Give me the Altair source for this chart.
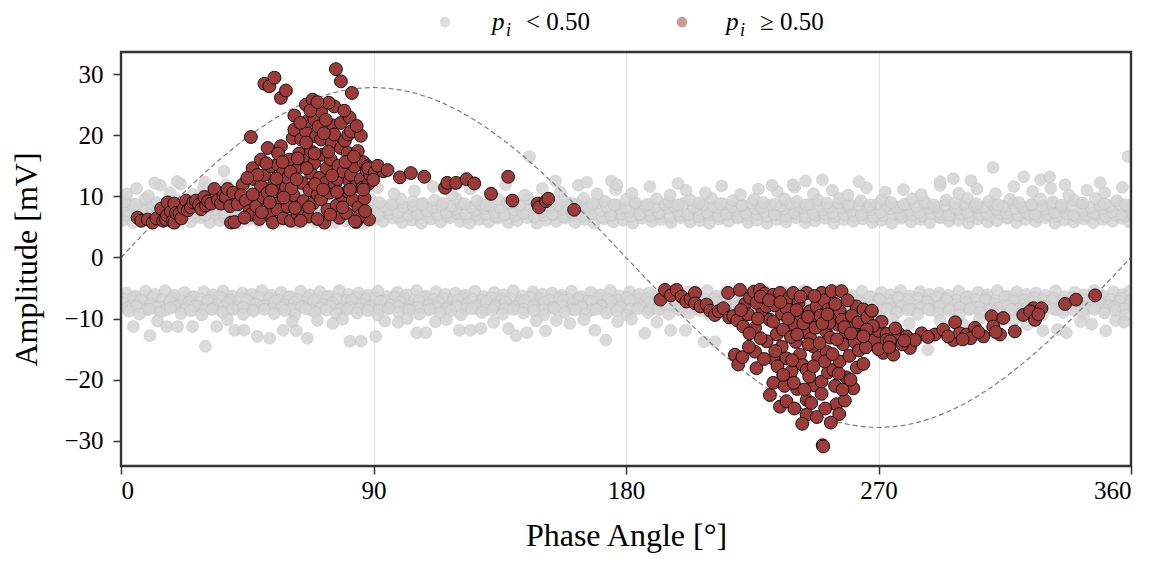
import altair as alt
import pandas as pd

# ---------------- data ----------------
# grey points (p_i < 0.50), upper band
gray_upper = [
 [0.8,6.1],[4.3,5.7],[7.6,6.4],[11.2,5.9],[14.5,6.3],[18.1,5.6],[21.4,6.2],[24.9,5.8],[28.3,6.5],[31.6,5.7],[35.2,6.0],[38.7,6.4],[42.0,5.6],[45.4,6.2],[48.9,5.9],[52.3,6.5],[55.6,5.7],[59.2,6.1],[62.7,5.6],[66.0,6.3],[69.5,5.8],[72.9,6.4],[76.2,5.7],[79.8,6.0],[83.1,6.5],[86.6,5.6],[90.0,6.2],[93.4,5.9],[96.9,6.4],[100.2,5.7],[103.8,6.1],[107.1,5.6],[110.6,6.3],[114.0,5.8],[117.3,6.5],[120.9,5.9],[124.2,5.6],[127.7,6.2],[131.1,5.8],[134.4,6.4],[138.0,5.7],[141.3,6.0],[144.8,6.5],[148.2,5.6],[151.5,6.1],[155.1,5.9],[158.4,6.4],[161.9,5.7],[165.3,6.2],[168.6,5.6],[172.2,6.3],[175.5,5.8],[179.0,6.1],[182.4,5.6],[185.7,6.4],[189.3,5.9],[192.6,6.2],[196.1,5.7],[199.5,6.5],[202.8,5.8],[206.4,6.0],[209.7,5.6],[213.2,6.3],[216.6,5.9],[219.9,6.4],[223.5,5.7],[226.8,6.1],[230.3,5.6],[233.7,6.2],[237.0,5.8],[240.6,6.5],[243.9,5.7],[247.4,6.0],[250.8,6.4],[254.1,5.6],[257.7,6.2],[261.0,5.9],[264.5,6.3],[267.9,5.7],[271.2,6.1],[274.8,5.6],[278.1,6.4],[281.6,5.8],[285.0,6.2],[288.3,5.7],[291.9,6.5],[295.2,5.9],[298.7,6.1],[302.1,5.6],[305.4,6.3],[309.0,5.8],[312.3,6.0],[315.8,6.4],[319.2,5.7],[322.5,6.2],[326.1,5.9],[329.4,6.5],[332.9,5.6],[336.3,6.1],[339.6,5.8],[343.2,6.3],[346.5,5.7],[350.0,6.2],[353.4,5.9],[356.7,6.4],[359.4,5.8],
 [2.5,6.9],[5.9,6.7],[9.4,7.1],[12.8,6.6],[16.3,7.0],[19.7,6.8],[23.2,7.2],[26.6,6.7],[30.1,6.9],[33.5,7.1],[37.0,6.6],[40.4,7.0],[43.9,6.8],[47.3,7.2],[50.8,6.6],[54.2,6.9],[57.7,7.1],[61.1,6.7],[64.6,7.0],[68.0,6.8],[71.5,7.2],[74.9,6.6],[78.4,6.9],[81.8,7.1],[85.3,6.7],[88.7,7.0],[92.2,6.8],[95.6,7.2],[99.1,6.6],[102.5,6.9],[106.0,7.1],[109.4,6.7],[112.9,7.0],[116.3,6.8],[119.8,7.2],[123.2,6.6],[126.7,6.9],[130.1,7.1],[133.6,6.7],[137.0,7.0],[140.5,6.8],[143.9,7.2],[147.4,6.6],[150.8,6.9],[154.3,7.1],[157.7,6.7],[161.2,7.0],[164.6,6.8],[168.1,7.2],[171.5,6.6],[175.0,6.9],[178.4,7.1],[181.9,6.7],[185.3,7.0],[188.8,6.8],[192.2,7.2],[195.7,6.6],[199.1,6.9],[202.6,7.1],[206.0,6.7],[209.5,7.0],[212.9,6.8],[216.4,7.2],[219.8,6.6],[223.3,6.9],[226.7,7.1],[230.2,6.7],[233.6,7.0],[237.1,6.8],[240.5,7.2],[244.0,6.6],[247.4,6.9],[250.9,7.1],[254.3,6.7],[257.8,7.0],[261.2,6.8],[264.7,7.2],[268.1,6.6],[271.6,6.9],[275.0,7.1],[278.5,6.7],[281.9,7.0],[285.4,6.8],[288.8,7.2],[292.3,6.6],[295.7,6.9],[299.2,7.1],[302.6,6.7],[306.1,7.0],[309.5,6.8],[313.0,7.2],[316.4,6.6],[319.9,6.9],[323.3,7.1],[326.8,6.7],[330.2,7.0],[333.7,6.8],[337.1,7.2],[340.6,6.6],[344.0,6.9],[347.5,7.1],[350.9,6.7],[354.4,7.0],[357.8,6.8],
 [2.4,7.6],[5.9,7.1],[9.3,8.0],[12.8,7.4],[16.2,7.9],[19.7,7.2],[23.1,8.2],[26.5,7.5],[30.0,7.0],[33.4,7.8],[36.9,7.3],[40.3,8.1],[43.7,7.6],[47.2,7.1],[50.6,7.9],[54.1,7.4],[57.5,8.2],[60.9,7.0],[64.4,7.7],[67.8,7.3],[71.3,8.0],[74.7,7.5],[78.1,7.1],[81.6,7.9],[85.0,7.4],[88.5,8.2],[91.9,7.2],[95.3,7.8],[98.8,7.4],[102.2,8.1],[105.7,7.0],[109.1,7.6],[112.5,8.2],[116.0,7.3],[119.4,7.9],[122.9,7.1],[126.3,7.7],[129.7,8.0],[133.2,7.4],[136.6,7.0],[140.1,7.8],[143.5,7.3],[146.9,8.1],[150.4,7.5],[153.8,7.1],[157.3,7.9],[160.7,7.4],[164.1,8.2],[167.6,7.2],[171.0,7.7],[174.5,7.0],[177.9,8.0],[181.3,7.5],[184.8,7.1],[188.2,7.8],[191.7,7.3],[195.1,8.1],[198.5,7.6],[202.0,7.0],[205.4,7.9],[208.9,7.4],[212.3,8.2],[215.7,7.1],[219.2,7.7],[222.6,7.3],[226.1,8.0],[229.5,7.5],[232.9,7.1],[236.4,7.9],[239.8,7.4],[243.3,8.1],[246.7,7.2],[250.1,7.8],[253.6,7.3],[257.0,8.2],[260.5,7.6],[263.9,7.0],[267.3,7.8],[270.8,7.4],[274.2,8.0],[277.7,7.1],[281.1,7.7],[284.5,7.3],[288.0,8.1],[291.4,7.5],[294.9,7.0],[298.3,7.9],[301.7,7.4],[305.2,8.2],[308.6,7.2],[312.1,7.8],[315.5,7.3],[318.9,8.0],[322.4,7.5],[325.8,7.1],[329.3,7.9],[332.7,7.4],[336.1,8.2],[339.6,7.0],[343.0,7.7],[346.5,7.3],[349.9,8.0],[353.3,7.5],[356.8,7.1],[359.6,7.8],
 [0.6,8.4],[4.0,8.7],[7.5,8.3],[10.9,8.8],[14.4,8.5],[17.8,8.2],[21.3,8.9],[24.7,8.4],[28.2,8.6],[31.6,8.3],[35.1,8.8],[38.5,8.5],[42.0,8.2],[45.4,8.7],[48.9,8.4],[52.3,8.9],[55.8,8.3],[59.2,8.6],[62.7,8.2],[66.1,8.8],[69.6,8.5],[73.0,8.3],[76.5,8.7],[79.9,8.4],[83.4,8.9],[86.8,8.2],[90.3,8.6],[93.7,8.4],[97.2,8.8],[100.6,8.3],[104.1,8.5],[107.5,8.9],[111.0,8.2],[114.4,8.6],[117.9,8.4],[121.3,8.8],[124.8,8.3],[128.2,8.7],[131.7,8.5],[135.1,8.2],[138.6,8.9],[142.0,8.4],[145.5,8.6],[148.9,8.3],[152.4,8.8],[155.8,8.5],[159.3,8.2],[162.7,8.7],[166.2,8.4],[169.6,8.9],[173.1,8.3],[176.5,8.6],[180.0,8.2],[183.4,8.8],[186.9,8.5],[190.3,8.3],[193.8,8.7],[197.2,8.4],[200.7,8.9],[204.1,8.2],[207.6,8.6],[211.0,8.4],[214.5,8.8],[217.9,8.3],[221.4,8.5],[224.8,8.9],[228.3,8.2],[231.7,8.6],[235.2,8.4],[238.6,8.8],[242.1,8.3],[245.5,8.7],[249.0,8.5],[252.4,8.2],[255.9,8.9],[259.3,8.4],[262.8,8.6],[266.2,8.3],[269.7,8.8],[273.1,8.5],[276.6,8.2],[280.0,8.7],[283.5,8.4],[286.9,8.9],[290.4,8.3],[293.8,8.6],[297.3,8.2],[300.7,8.8],[304.2,8.5],[307.6,8.3],[311.1,8.7],[314.5,8.4],[318.0,8.9],[321.4,8.2],[324.9,8.6],[328.3,8.4],[331.8,8.8],[335.2,8.3],[338.7,8.5],[342.1,8.9],[345.6,8.2],[349.0,8.6],[352.5,8.4],[355.9,8.8],[359.0,8.3],
 [1.2,9.1],[5.3,8.7],[8.6,9.6],[12.9,9.0],[16.1,8.6],[20.4,9.4],[23.7,8.9],[27.9,9.7],[31.3,8.8],[35.6,9.3],[38.9,8.6],[43.3,9.5],[46.5,9.0],[50.9,8.7],[54.2,9.6],[58.5,9.1],[61.7,8.6],[66.1,9.4],[69.3,8.9],[73.7,9.7],[76.9,8.8],[81.3,9.2],[84.5,8.6],[88.9,9.5],[92.1,9.0],[96.5,8.7],[99.7,9.6],[104.1,9.2],[107.3,8.6],[111.7,9.4],[114.9,8.9],[119.3,9.7],[122.5,8.8],[126.9,9.3],[130.1,8.6],[134.5,9.5],[137.7,9.0],[142.1,8.7],[145.3,9.6],[149.7,9.1],[152.9,8.6],[157.3,9.4],[160.5,8.9],[164.9,9.7],[168.1,8.8],[172.5,9.2],[175.7,8.6],[180.1,9.5],[183.3,9.0],[187.7,8.7],[190.9,9.6],[195.3,9.1],[198.5,8.6],[202.9,9.4],[206.1,8.9],[210.5,9.7],[213.7,8.8],[218.1,9.3],[221.3,8.6],[225.7,9.5],[228.9,9.0],[233.3,8.7],[236.5,9.6],[240.9,9.2],[244.1,8.6],[248.5,9.4],[251.7,8.9],[256.1,9.7],[259.3,8.8],[263.7,9.3],[266.9,8.6],[271.3,9.5],[274.5,9.0],[278.9,8.7],[282.1,9.6],[286.5,9.1],[289.7,8.6],[294.1,9.4],[297.3,8.9],[301.7,9.7],[304.9,8.8],[309.3,9.2],[312.5,8.6],[316.9,9.5],[320.1,9.0],[324.5,8.7],[327.7,9.6],[332.1,9.1],[335.3,8.6],[339.7,9.4],[342.9,8.9],[347.3,9.7],[350.5,8.8],[354.9,9.3],[358.1,8.6],
 [2.1,10.4],[5.5,11.3],[9.8,10.1],[14.0,11.8],[17.5,10.6],[21.3,12.0],[25.8,10.3],[29.4,11.5],[33.2,10.8],[37.5,11.9],[41.6,10.2],[46.1,11.0],[50.3,10.5],[57.0,10.9],[63.1,10.3],[70.4,11.1],[76.8,10.6],[84.2,10.2],[91.5,11.4],[97.3,10.4],[104.6,10.9],[111.2,11.6],[117.9,10.3],[124.5,11.2],[131.8,10.6],[137.1,11.9],[143.9,10.2],[150.2,11.3],[156.6,10.7],[163.0,11.8],[169.7,10.4],[176.3,11.1],[182.1,10.5],[188.5,11.6],[195.7,10.2],[201.4,11.0],[208.3,10.6],[214.1,11.7],[220.8,10.3],[227.2,11.2],[233.9,10.8],[240.1,11.5],[246.8,10.4],[253.5,11.0],[259.2,10.2],[265.7,11.4],[272.4,10.7],[278.9,11.1],[285.3,10.3],[292.0,11.8],[298.6,10.5],[305.1,11.2],[311.7,10.4],[318.2,11.6],[324.9,10.8],[331.4,11.3],[337.8,10.2],[344.3,11.0],[350.6,10.6],[356.9,11.5],
 [36.7,14.1],[145.6,16.5],[154.9,12.5],[174.8,12.5],[176.8,11.9],[198.5,12.1],[232.0,11.8],[239.5,11.9],[244.0,12.5],[250.0,12.7],[292.0,12.4],[296.7,12.9],[310.8,14.7],[321.8,13.2],[327.8,12.7],[331.0,13.2],[336.5,11.9],[349.0,12.2],[358.9,16.5],[12.0,12.2],[20.0,12.4],[30.0,12.3],[44.0,12.1],[118.0,12.0],[166.0,12.3],[263.0,12.4],[303.0,12.6],
]

# grey points (p_i < 0.50), lower band
gray_lower = [
 [1.9,-5.8],[5.2,-6.3],[8.8,-5.5],[12.1,-6.0],[15.7,-5.4],[19.0,-6.2],[22.6,-5.7],[25.9,-6.4],[29.5,-5.6],[32.8,-6.1],[36.4,-5.5],[39.7,-6.3],[43.3,-5.8],[46.6,-6.0],[50.2,-5.4],[53.5,-6.2],[57.1,-5.7],[60.4,-6.4],[64.0,-5.5],[67.3,-6.1],[70.9,-5.6],[74.2,-6.3],[77.8,-5.4],[81.1,-6.0],[84.7,-5.8],[88.0,-6.2],[91.6,-5.5],[94.9,-6.4],[98.5,-5.7],[101.8,-6.1],[105.4,-5.4],[108.7,-6.3],[112.3,-5.6],[115.6,-6.0],[119.2,-5.8],[122.5,-6.2],[126.1,-5.5],[129.4,-6.4],[133.0,-5.7],[136.3,-6.1],[139.9,-5.4],[143.2,-6.3],[146.8,-5.6],[150.1,-6.0],[153.7,-5.8],[157.0,-6.2],[160.6,-5.5],[163.9,-6.4],[167.5,-5.7],[170.8,-6.1],[174.4,-5.4],[177.7,-6.3],[181.3,-5.6],[184.6,-6.0],[188.2,-5.8],[191.5,-6.2],[195.1,-5.5],[198.4,-6.4],[202.0,-5.7],[205.3,-6.1],[208.9,-5.4],[212.2,-6.3],[215.8,-5.6],[219.1,-6.0],[222.7,-5.8],[226.0,-6.2],[229.6,-5.5],[232.9,-6.4],[236.5,-5.7],[239.8,-6.1],[243.4,-5.4],[246.7,-6.3],[250.3,-5.6],[253.6,-6.0],[257.2,-5.8],[260.5,-6.2],[264.1,-5.5],[267.4,-6.4],[271.0,-5.7],[274.3,-6.1],[277.9,-5.4],[281.2,-6.3],[284.8,-5.6],[288.1,-6.0],[291.7,-5.8],[295.0,-6.2],[298.6,-5.5],[301.9,-6.4],[305.5,-5.7],[308.8,-6.1],[312.4,-5.4],[315.7,-6.3],[319.3,-5.6],[322.6,-6.0],[326.2,-5.8],[329.5,-6.2],[333.1,-5.5],[336.4,-6.4],[340.0,-5.7],[343.3,-6.1],[346.9,-5.4],[350.2,-6.3],[353.8,-5.6],[357.1,-6.0],[359.7,-5.5],
 [1.0,-6.8],[4.5,-6.6],[7.9,-7.0],[11.4,-6.5],[14.8,-6.9],[18.3,-6.7],[21.7,-7.1],[25.2,-6.6],[28.6,-6.8],[32.1,-7.0],[35.5,-6.5],[39.0,-6.9],[42.4,-6.7],[45.9,-7.1],[49.3,-6.5],[52.8,-6.8],[56.2,-7.0],[59.7,-6.6],[63.1,-6.9],[66.6,-6.7],[70.0,-7.1],[73.5,-6.5],[76.9,-6.8],[80.4,-7.0],[83.8,-6.6],[87.3,-6.9],[90.7,-6.7],[94.2,-7.1],[97.6,-6.5],[101.1,-6.8],[104.5,-7.0],[108.0,-6.6],[111.4,-6.9],[114.9,-6.7],[118.3,-7.1],[121.8,-6.5],[125.2,-6.8],[128.7,-7.0],[132.1,-6.6],[135.6,-6.9],[139.0,-6.7],[142.5,-7.1],[145.9,-6.5],[149.4,-6.8],[152.8,-7.0],[156.3,-6.6],[159.7,-6.9],[163.2,-6.7],[166.6,-7.1],[170.1,-6.5],[173.5,-6.8],[177.0,-7.0],[180.4,-6.6],[183.9,-6.9],[187.3,-6.7],[190.8,-7.1],[194.2,-6.5],[197.7,-6.8],[201.1,-7.0],[204.6,-6.6],[208.0,-6.9],[211.5,-6.7],[214.9,-7.1],[218.4,-6.5],[221.8,-6.8],[225.3,-7.0],[228.7,-6.6],[232.2,-6.9],[235.6,-6.7],[239.1,-7.1],[242.5,-6.5],[246.0,-6.8],[249.4,-7.0],[252.9,-6.6],[256.3,-6.9],[259.8,-6.7],[263.2,-7.1],[266.7,-6.5],[270.1,-6.8],[273.6,-7.0],[277.0,-6.6],[280.5,-6.9],[283.9,-6.7],[287.4,-7.1],[290.8,-6.5],[294.3,-6.8],[297.7,-7.0],[301.2,-6.6],[304.6,-6.9],[308.1,-6.7],[311.5,-7.1],[315.0,-6.5],[318.4,-6.8],[321.9,-7.0],[325.3,-6.6],[328.8,-6.9],[332.2,-6.7],[335.7,-7.1],[339.1,-6.5],[342.6,-6.8],[346.0,-7.0],[349.5,-6.6],[352.9,-6.9],[356.4,-6.7],[359.8,-7.1],
 [0.3,-7.4],[3.7,-7.9],[7.0,-7.0],[10.6,-7.6],[13.9,-8.1],[17.4,-7.2],[20.8,-7.8],[24.1,-7.3],[27.7,-8.0],[31.0,-7.1],[34.5,-7.7],[37.9,-7.4],[41.2,-8.1],[44.8,-7.0],[48.1,-7.6],[51.6,-7.9],[55.0,-7.2],[58.3,-7.8],[61.9,-7.3],[65.2,-8.0],[68.7,-7.1],[72.1,-7.7],[75.4,-7.4],[79.0,-8.1],[82.3,-7.0],[85.8,-7.6],[89.2,-7.9],[92.5,-7.2],[96.1,-7.8],[99.4,-7.3],[102.9,-8.0],[106.3,-7.1],[109.6,-7.7],[113.2,-7.4],[116.5,-8.1],[120.0,-7.0],[123.4,-7.6],[126.7,-7.9],[130.3,-7.2],[133.6,-7.8],[137.1,-7.3],[140.5,-8.0],[143.8,-7.1],[147.4,-7.7],[150.7,-7.4],[154.2,-8.1],[157.6,-7.0],[160.9,-7.6],[164.5,-7.9],[167.8,-7.2],[171.3,-7.8],[174.7,-7.3],[178.0,-8.0],[181.6,-7.1],[184.9,-7.7],[188.4,-7.4],[191.8,-8.1],[195.1,-7.0],[198.7,-7.6],[202.0,-7.9],[205.5,-7.2],[208.9,-7.8],[212.2,-7.3],[215.8,-8.0],[219.1,-7.1],[222.6,-7.7],[226.0,-7.4],[229.3,-8.1],[232.9,-7.0],[236.2,-7.6],[239.7,-7.9],[243.1,-7.2],[246.4,-7.8],[250.0,-7.3],[253.3,-8.0],[256.8,-7.1],[260.2,-7.7],[263.5,-7.4],[267.1,-8.1],[270.4,-7.0],[273.9,-7.6],[277.3,-7.9],[280.6,-7.2],[284.2,-7.8],[287.5,-7.3],[291.0,-8.0],[294.4,-7.1],[297.7,-7.7],[301.3,-7.4],[304.6,-8.1],[308.1,-7.0],[311.5,-7.6],[314.8,-7.9],[318.4,-7.2],[321.7,-7.8],[325.2,-7.3],[328.6,-8.0],[331.9,-7.1],[335.5,-7.7],[338.8,-7.4],[342.3,-8.1],[345.7,-7.0],[349.0,-7.6],[352.6,-7.9],[355.9,-7.2],[359.3,-7.8],
 [2.2,-8.3],[5.6,-8.0],[9.1,-8.5],[12.5,-8.2],[16.0,-8.6],[19.4,-8.1],[22.9,-8.4],[26.3,-8.0],[29.8,-8.6],[33.2,-8.3],[36.7,-8.1],[40.1,-8.5],[43.6,-8.2],[47.0,-8.6],[50.5,-8.0],[53.9,-8.4],[57.4,-8.2],[60.8,-8.5],[64.3,-8.1],[67.7,-8.6],[71.2,-8.3],[74.6,-8.0],[78.1,-8.5],[81.5,-8.2],[85.0,-8.4],[88.4,-8.1],[91.9,-8.6],[95.3,-8.3],[98.8,-8.0],[102.2,-8.5],[105.7,-8.2],[109.1,-8.6],[112.6,-8.1],[116.0,-8.4],[119.5,-8.0],[122.9,-8.5],[126.4,-8.3],[129.8,-8.6],[133.3,-8.1],[136.7,-8.4],[140.2,-8.2],[143.6,-8.5],[147.1,-8.0],[150.5,-8.6],[154.0,-8.3],[157.4,-8.1],[160.9,-8.5],[164.3,-8.2],[167.8,-8.6],[171.2,-8.0],[174.7,-8.4],[178.1,-8.2],[181.6,-8.5],[185.0,-8.1],[188.5,-8.6],[191.9,-8.3],[195.4,-8.0],[198.8,-8.5],[202.3,-8.2],[205.7,-8.4],[209.2,-8.1],[212.6,-8.6],[216.1,-8.3],[219.5,-8.0],[223.0,-8.5],[226.4,-8.2],[229.9,-8.6],[233.3,-8.1],[236.8,-8.4],[240.2,-8.0],[243.7,-8.5],[247.1,-8.3],[250.6,-8.6],[254.0,-8.1],[257.5,-8.4],[260.9,-8.2],[264.4,-8.5],[267.8,-8.0],[271.3,-8.6],[274.7,-8.3],[278.2,-8.1],[281.6,-8.5],[285.1,-8.2],[288.5,-8.6],[292.0,-8.0],[295.4,-8.4],[298.9,-8.2],[302.3,-8.5],[305.8,-8.1],[309.2,-8.6],[312.7,-8.3],[316.1,-8.0],[319.6,-8.5],[323.0,-8.2],[326.5,-8.4],[329.9,-8.1],[333.4,-8.6],[336.8,-8.3],[340.3,-8.0],[343.7,-8.5],[347.2,-8.2],[350.6,-8.6],[354.1,-8.1],[357.5,-8.4],
 [2.8,-8.8],[6.6,-9.3],[10.1,-8.5],[14.0,-9.0],[17.6,-8.3],[21.4,-9.2],[25.0,-8.7],[28.8,-9.4],[32.4,-8.5],[36.2,-9.0],[39.8,-8.4],[43.6,-9.3],[47.2,-8.8],[51.0,-8.5],[54.6,-9.2],[58.4,-8.7],[62.0,-9.4],[65.8,-8.4],[69.4,-9.0],[73.2,-8.6],[76.8,-9.3],[80.6,-8.5],[84.2,-9.1],[88.0,-8.7],[91.6,-9.4],[95.4,-8.4],[99.0,-9.0],[102.8,-8.6],[106.4,-9.3],[110.2,-8.5],[113.8,-9.1],[117.6,-8.7],[121.2,-9.4],[125.0,-8.4],[128.6,-9.0],[132.4,-8.6],[136.0,-9.3],[139.8,-8.5],[143.4,-9.1],[147.2,-8.7],[150.8,-9.4],[154.6,-8.4],[158.2,-9.0],[162.0,-8.6],[165.6,-9.3],[169.4,-8.5],[173.0,-9.1],[176.8,-8.7],[180.4,-9.4],[184.2,-8.4],[187.8,-9.0],[191.6,-8.6],[195.2,-9.3],[199.0,-8.5],[202.6,-9.1],[206.4,-8.7],[210.0,-9.4],[213.8,-8.4],[217.4,-9.0],[221.2,-8.6],[224.8,-9.3],[228.6,-8.5],[232.2,-9.1],[236.0,-8.7],[239.6,-9.4],[243.4,-8.4],[247.0,-9.0],[250.8,-8.6],[254.4,-9.3],[258.2,-8.5],[261.8,-9.1],[265.6,-8.7],[269.2,-9.4],[273.0,-8.4],[276.6,-9.0],[280.4,-8.6],[284.0,-9.3],[287.8,-8.5],[291.4,-9.1],[295.2,-8.7],[298.8,-9.4],[302.6,-8.4],[306.2,-9.0],[310.0,-8.6],[313.6,-9.3],[317.4,-8.5],[321.0,-9.1],[324.8,-8.7],[328.4,-9.4],[332.2,-8.4],[335.8,-9.0],[339.6,-8.6],[343.2,-9.3],[347.0,-8.5],[350.6,-9.1],[354.4,-8.7],[358.0,-9.4],
 [4.4,-11.3],[10.3,-12.8],[13.0,-10.4],[16.3,-11.3],[20.2,-11.3],[25.5,-11.3],[30.1,-14.5],[34.1,-11.3],[38.0,-10.2],[40.5,-11.9],[43.9,-11.9],[48.6,-12.9],[53.0,-13.2],[57.8,-11.9],[61.0,-10.5],[62.5,-12.0],[66.4,-13.2],[70.0,-10.3],[75.5,-10.8],[79.0,-10.1],[81.6,-13.7],[85.6,-13.7],[90.8,-12.9],[94.0,-10.4],[98.8,-10.6],[102.0,-10.0],[105.4,-12.3],[108.7,-12.3],[112.0,-10.5],[116.0,-10.2],[120.6,-11.9],[124.6,-11.9],[128.3,-11.6],[132.8,-10.6],[138.1,-11.6],[140.8,-12.8],[144.7,-12.3],[148.0,-10.4],[151.3,-12.0],[155.2,-10.3],[160.0,-10.8],[165.0,-10.2],[168.9,-11.9],[172.8,-13.5],[177.0,-10.5],[182.0,-10.1],[186.7,-12.4],[191.0,-10.6],[195.9,-11.9],[201.2,-11.9],[207.8,-13.8],[211.7,-13.8],[230.0,-10.2],[246.0,-10.1],[262.0,-10.4],[275.0,-10.2],[281.0,-10.8],[287.6,-15.1],[292.0,-10.3],[300.0,-10.9],[306.0,-10.1],[312.0,-10.6],[318.0,-10.4],[323.0,-11.0],[328.6,-12.0],[333.8,-11.8],[337.0,-12.3],[342.0,-10.5],[346.0,-10.9],[351.0,-12.0],[354.5,-10.3],[357.5,-10.6],
]

# red points (p_i >= 0.50), positive half-cycle cluster and tail
red_left = [
 [5.9,6.5],[7.2,6.0],[9.5,6.2],[11.3,5.7],[12.6,6.4],[14.3,8.0],[15.0,6.0],[16.0,6.2],[16.6,9.0],[16.4,6.9],[17.8,7.5],[18.4,5.9],[19.0,8.8],[19.0,5.7],[19.6,7.3],[20.8,7.2],[21.5,6.4],[22.4,8.0],[23.2,9.3],[23.8,7.7],[24.9,8.2],[25.7,9.0],[26.7,9.3],[27.8,8.6],[28.6,7.9],[29.7,9.9],[30.3,8.5],[31.0,9.2],[32.1,8.8],[33.3,11.2],[34.6,9.4],[35.6,8.8],[36.5,10.1],[37.4,9.9],[38.0,11.2],[38.9,8.4],[39.2,5.7],[40.0,10.6],
 [40.5,5.8],[41.6,8.7],[43.4,11.9],[42.8,10.2],[44.5,9.3],[45.8,7.6],[46.3,7.0],[46.9,14.6],[47.5,12.8],[48.2,8.4],[49.9,16.0],[49.9,11.7],[49.3,6.3],[50.8,9.8],[51.1,13.5],[52.3,10.6],[52.3,17.9],[52.9,7.2],[53.5,14.9],[54.1,5.7],[54.6,12.1],[55.2,8.8],[55.8,15.2],[55.8,7.8],[56.4,10.9],[57.0,18.2],[57.6,13.8],[57.9,6.4],[58.8,11.4],[59.4,13.0],[59.4,8.3],[60.0,16.0],[60.5,6.0],[61.2,19.5],[61.8,20.9],[61.8,23.2],[61.5,10.2],[62.4,14.3],[62.9,7.1],[63.5,17.0],[64.2,19.3],[64.5,12.2],[65.0,9.2],[65.5,15.8],[65.9,20.6],[65.9,25.0],[66.5,22.3],[66.8,6.7],[67.2,11.0],[67.7,13.8],[67.7,17.4],[68.3,25.8],[68.6,8.9],[68.9,22.6],[68.9,15.5],[69.5,19.8],[70.1,10.3],[70.4,21.4],[70.7,13.0],[71.3,23.9],[71.3,19.3],[71.3,9.5],[71.8,16.8],[72.5,5.7],[72.8,12.2],[73.3,14.6],[73.6,7.8],[74.3,10.6],[74.8,16.0],[75.1,18.7],[75.6,21.6],[76.0,24.7],[76.0,20.1],[76.3,12.0],[76.6,30.8],[76.9,8.5],[77.2,12.8],[77.5,15.0],[77.8,6.5],[78.4,28.8],[78.4,22.0],[78.4,17.9],[78.9,10.0],[79.3,14.0],[79.8,19.1],[80.2,7.3],[80.8,17.1],[80.8,10.8],[81.0,20.1],[81.4,12.5],[82.0,20.6],[82.0,13.5],[82.3,26.9],[82.6,9.4],[83.2,14.9],[83.5,11.6],[83.8,5.8],[84.4,17.4],[84.6,8.2],[85.5,12.8],[85.5,19.9],[86.1,11.4],[86.4,15.6],[86.8,9.7],[87.5,14.2],[87.9,14.9],[88.1,12.0],[88.4,6.2],[88.8,13.5],[89.5,14.4],[85.0,6.8],[87.0,7.6],
 [51.1,28.4],[52.9,28.0],[54.7,29.4],[57.0,26.1],[58.8,27.3],[46.3,19.7],
 [60.8,11.3],[62.0,8.1],[63.0,16.2],[64.0,6.0],[66.2,14.6],[67.0,8.2],[69.2,12.0],[70.0,6.3],[72.0,11.1],[73.9,17.3],[74.6,7.0],[75.2,13.4],[77.0,10.7],[79.0,8.2],[80.0,15.6],[81.5,22.9],[83.0,16.5],[84.0,21.5],[58.0,9.8],[56.0,17.0],[53.8,11.0],[51.8,15.4],[48.6,13.5],[47.0,10.3],[44.0,6.5],[45.0,13.0],[63.9,22.0],[67.5,24.0],[73.0,22.5],[74.0,25.3],[70.0,25.4],[72.3,20.3],[79.6,24.0],[66.0,18.8],[69.0,17.0],[60.4,14.0],[57.6,15.6],[55.4,12.9],[53.0,9.0],[50.2,7.4],[62.6,12.8],
 [88.1,14.6],[90.5,14.0],[93.5,14.1],[89.9,12.7],[86.4,11.1],[81.6,11.1],[83.4,5.9],[91.5,15.0],[95.0,14.3],[99.4,13.1],[103.3,13.8],[108.1,13.2],[115.5,11.4],[116.3,12.2],[119.4,12.2],[123.2,12.8],[125.9,12.1],[131.9,10.4],[138.0,13.2],[139.5,9.3],[148.5,8.8],[149.0,8.2],[151.5,9.2],[152.3,9.6],[161.5,7.8],
]

# red points (p_i >= 0.50), negative half-cycle cluster and tail
red_right = [
 [192.3,-6.9],[193.9,-5.3],[196.0,-6.2],[198.0,-5.3],[199.8,-6.4],[201.5,-7.2],[203.0,-6.8],[204.6,-5.8],[204.6,-7.5],[206.5,-8.0],[208.7,-7.7],[210.0,-8.7],[211.7,-9.4],[213.0,-8.8],[214.7,-8.3],[216.4,-5.8],[216.8,-9.8],[218.2,-9.6],[219.6,-10.3],[220.6,-5.3],[221.8,-11.3],[222.5,-7.6],[224.2,-6.6],[223.5,-9.3],[226.0,-11.5],[225.6,-5.6],[227.7,-5.3],[228.6,-8.7],[230.1,-8.0],[229.5,-5.9],[231.3,-10.2],[232.5,-6.1],[232.5,-10.5],[233.7,-12.6],[234.9,-5.8],[235.6,-9.2],[237.2,-8.3],[238.4,-6.5],[239.6,-5.8],[240.2,-11.0],[241.5,-7.4],[242.5,-9.6],[244.4,-5.8],[243.8,-12.2],[245.5,-8.8],[246.7,-10.6],[248.0,-8.0],[249.7,-5.8],[250.6,-7.0],[251.2,-12.0],[252.1,-8.5],[253.3,-5.5],[254.0,-10.2],[255.6,-11.0],[256.2,-8.8],[256.8,-5.5],[258.2,-12.6],[259.5,-9.8],[261.0,-11.5],[262.1,-8.0],[263.5,-13.0],[264.6,-8.5],[264.6,-12.7],[266.3,-11.0],[267.5,-8.8],[268.7,-13.5],[270.0,-12.0],[271.1,-10.5],[272.9,-12.5],[272.9,-13.5],
 [218.8,-15.9],[220.0,-17.5],[226.0,-15.4],[226.5,-18.1],[230.1,-13.7],[232.5,-16.5],[231.3,-22.5],[232.5,-20.5],[234.9,-24.4],[235.5,-14.6],[237.2,-16.5],[237.2,-23.5],[238.4,-19.7],[239.0,-18.6],[240.5,-13.8],[242.0,-15.9],[241.0,-21.5],[243.0,-17.6],[244.4,-18.4],[244.4,-23.3],[244.4,-25.7],[245.8,-13.3],[246.7,-14.5],[247.0,-20.9],[248.5,-16.3],[249.7,-20.3],[249.7,-22.3],[250.1,-30.7],[250.3,-30.9],[251.5,-15.4],[252.0,-18.8],[252.8,-13.1],[253.9,-18.4],[254.5,-21.0],[255.0,-24.0],[256.0,-25.6],[256.2,-17.0],[257.4,-14.2],[258.0,-23.4],[258.5,-19.6],[259.6,-16.1],[261.0,-21.4],[261.5,-13.8],[262.3,-18.0],[264.6,-17.4],[263.0,-15.2],[265.5,-14.7],[236.0,-11.8],[238.8,-13.0],[228.0,-13.2],[227.0,-10.0],[224.0,-12.4],[234.0,-17.8],[236.5,-21.0],[240.0,-24.7],[246.0,-23.8],[248.0,-26.1],[253.0,-27.0],[242.8,-27.2],[239.2,-16.8],[245.3,-19.5],[250.8,-17.0],[247.5,-11.5],[249.3,-9.5],[243.2,-10.8],[252.4,-10.7],[257.0,-10.2],[259.0,-7.0],[260.5,-9.5],[233.0,-7.8],[226.5,-7.4],[221.0,-8.6],
 [228.0,-6.4],[231.0,-7.0],[235.0,-7.3],[237.8,-10.0],[240.8,-8.6],[242.2,-6.4],[244.9,-9.7],[247.2,-6.3],[250.0,-10.8],[251.8,-9.3],[254.6,-7.6],[257.8,-11.4],[260.2,-12.4],[262.8,-10.6],[266.0,-9.8],[268.0,-11.2],[255.2,-13.4],[245.0,-14.2],[241.0,-12.6],[253.6,-15.8],[249.0,-14.0],[239.8,-20.5],[236.0,-19.2],[233.2,-15.3],[229.2,-16.6],[221.5,-16.3],[223.8,-14.6],[257.2,-21.6],[260.0,-20.0],[246.8,-17.8],[243.6,-21.6],[251.0,-24.7],[255.8,-19.0],
 [267.6,-8.7],[265.8,-11.8],[264.6,-12.9],[277.1,-12.4],[274.1,-13.7],[280.0,-12.9],[271.7,-15.6],[275.3,-15.9],[281.2,-14.8],[285.4,-12.4],[290.1,-12.6],[293.1,-11.8],[296.7,-13.5],[297.3,-10.6],[299.0,-12.4],[301.4,-12.6],[304.4,-11.5],[307.4,-12.9],[310.3,-9.6],[310.9,-11.3],[314.5,-9.9],[313.3,-12.6],[318.6,-12.1],[321.6,-9.4],[325.2,-8.3],[324.0,-8.8],[328.1,-8.3],[325.8,-10.2],[336.5,-7.6],[340.4,-6.9],[347.2,-6.2],[276.0,-11.6],[278.5,-14.2],[283.0,-13.5],[287.6,-13.0],[294.8,-12.9],[302.8,-13.2],[305.6,-12.2],[311.8,-12.2],[327.0,-9.3],[270.0,-15.0],[273.8,-14.7],[279.2,-13.6],[300.0,-13.4],
]

# dashed reference curve, read every 5 degrees
sine_phase = [0,5,10,15,20,25,30,35,40,45,50,55,60,65,70,75,80,85,90,
              95,100,105,110,115,120,125,130,135,140,145,150,155,160,165,170,175,180,
              185,190,195,200,205,210,215,220,225,230,235,240,245,250,255,260,265,270,
              275,280,285,290,295,300,305,310,315,320,325,330,335,340,345,350,355,360]
sine_amp = [0,2.42,4.83,7.19,9.51,11.75,13.90,15.95,17.87,19.66,21.29,22.77,24.07,25.20,26.12,26.85,27.38,27.69,27.80,
            27.69,27.38,26.85,26.12,25.20,24.07,22.77,21.29,19.66,17.87,15.95,13.90,11.75,9.51,7.19,4.83,2.42,0,
            -2.42,-4.83,-7.19,-9.51,-11.75,-13.90,-15.95,-17.87,-19.66,-21.29,-22.77,-24.07,-25.20,-26.12,-26.85,-27.38,-27.69,-27.80,
            -27.69,-27.38,-26.85,-26.12,-25.20,-24.07,-22.77,-21.29,-19.66,-17.87,-15.95,-13.90,-11.75,-9.51,-7.19,-4.83,-2.42,0]

x_ticks = [0, 90, 180, 270, 360]
y_ticks = [-30, -20, -10, 0, 10, 20, 30]
legend_labels = ["< 0.50", "\u2265 0.50"]

# ---------------- chart ----------------
FONT = "Liberation Serif"
W, H = 1010, 414
gray_df = pd.DataFrame(gray_upper + gray_lower, columns=["phase", "amp"])
red_df = pd.DataFrame(red_left + red_right, columns=["phase", "amp"])
sine_df = pd.DataFrame({"phase": sine_phase, "amp": sine_amp})

xs = alt.Scale(domain=[0, 360], nice=False, zero=False)
ys = alt.Scale(domain=[-34.1, 33.6], nice=False, zero=False)

x_axis = alt.Axis(values=x_ticks, title="Phase Angle [\u00b0]", grid=True, gridColor="#e4e4e4",
                  gridWidth=1, domain=False, tickColor="#333333", tickWidth=1.5, tickSize=8,
                  labelFont=FONT, labelFontSize=25, labelColor="black", labelPadding=4,
                  titleFont=FONT, titleFontSize=32, titleFontWeight="normal", titleColor="black",
                  titlePadding=17)
y_axis = alt.Axis(values=y_ticks, title="Amplitude [mV]", grid=False, domain=False,
                  tickColor="#333333", tickWidth=1.5, tickSize=8,
                  labelFont=FONT, labelFontSize=25, labelColor="black", labelPadding=10,
                  titleFont=FONT, titleFontSize=32, titleFontWeight="normal", titleColor="black",
                  titlePadding=20)

gray_layer = alt.Chart(gray_df).mark_circle(
    size=145, fill="#d4d4d4", fillOpacity=0.85, stroke="#b4b4b4", strokeOpacity=0.55,
    strokeWidth=0.6, clip=True
).encode(x=alt.X("phase:Q", scale=xs, axis=x_axis), y=alt.Y("amp:Q", scale=ys, axis=y_axis))

line_layer = alt.Chart(sine_df).mark_line(
    color="#7c7c7c", strokeWidth=1.2, strokeDash=[5, 3], clip=True
).encode(x=alt.X("phase:Q", scale=xs), y=alt.Y("amp:Q", scale=ys))

red_layer = alt.Chart(red_df).mark_circle(
    size=165, fill="#9d3b3b", fillOpacity=1, stroke="#111111", strokeWidth=1, strokeOpacity=1,
    clip=True
).encode(x=alt.X("phase:Q", scale=xs), y=alt.Y("amp:Q", scale=ys))

one = pd.DataFrame({"k": [0]})
FR = dict(color="#333333", strokeWidth=2.4, opacity=1)
frame_top = alt.Chart(one).mark_rule(**FR).encode(
    x=alt.value(-1), x2=alt.value(W + 1), y=alt.value(0))
frame_bottom = alt.Chart(one).mark_rule(**FR).encode(
    x=alt.value(-1), x2=alt.value(W + 1), y=alt.value(H))
frame_left = alt.Chart(one).mark_rule(**FR).encode(
    x=alt.value(0), y=alt.value(-1), y2=alt.value(H + 1))
frame_right = alt.Chart(one).mark_rule(**FR).encode(
    x=alt.value(W), y=alt.value(-1), y2=alt.value(H + 1))

LEG_Y = -21.6
leg = []
leg.append(alt.Chart(one).mark_circle(size=110, fill="#dddddd", opacity=1).encode(
    x=alt.value(324), y=alt.value(-30)))
leg.append(alt.Chart(one).mark_circle(size=110, fill="#cd9797", opacity=1).encode(
    x=alt.value(561), y=alt.value(-30)))
for x0, lab in [(371, legend_labels[0]), (605, legend_labels[1])]:
    leg.append(alt.Chart(one).mark_text(font=FONT, fontSize=25, fontStyle="italic", align="left",
                                        baseline="alphabetic", color="black").encode(
        x=alt.value(x0), y=alt.value(LEG_Y), text=alt.value("p")))
    leg.append(alt.Chart(one).mark_text(font=FONT, fontSize=18, fontStyle="italic", align="left",
                                        baseline="alphabetic", color="black").encode(
        x=alt.value(x0 + 14), y=alt.value(LEG_Y + 6), text=alt.value("i")))
    leg.append(alt.Chart(one).mark_text(font=FONT, fontSize=25, align="left",
                                        baseline="alphabetic", color="black").encode(
        x=alt.value(x0 + 34), y=alt.value(LEG_Y), text=alt.value(lab)))

chart = alt.layer(gray_layer, line_layer, red_layer,
                  frame_top, frame_bottom, frame_left, frame_right, *leg).properties(
    width=W, height=H,
    autosize=alt.AutoSizeParams(type="none"),
    padding={"left": 113, "top": 44, "right": 22, "bottom": 90},
).configure_view(stroke="#333333", strokeWidth=2)

chart.save("out.html", embed_options={"renderer": "svg", "actions": False})
